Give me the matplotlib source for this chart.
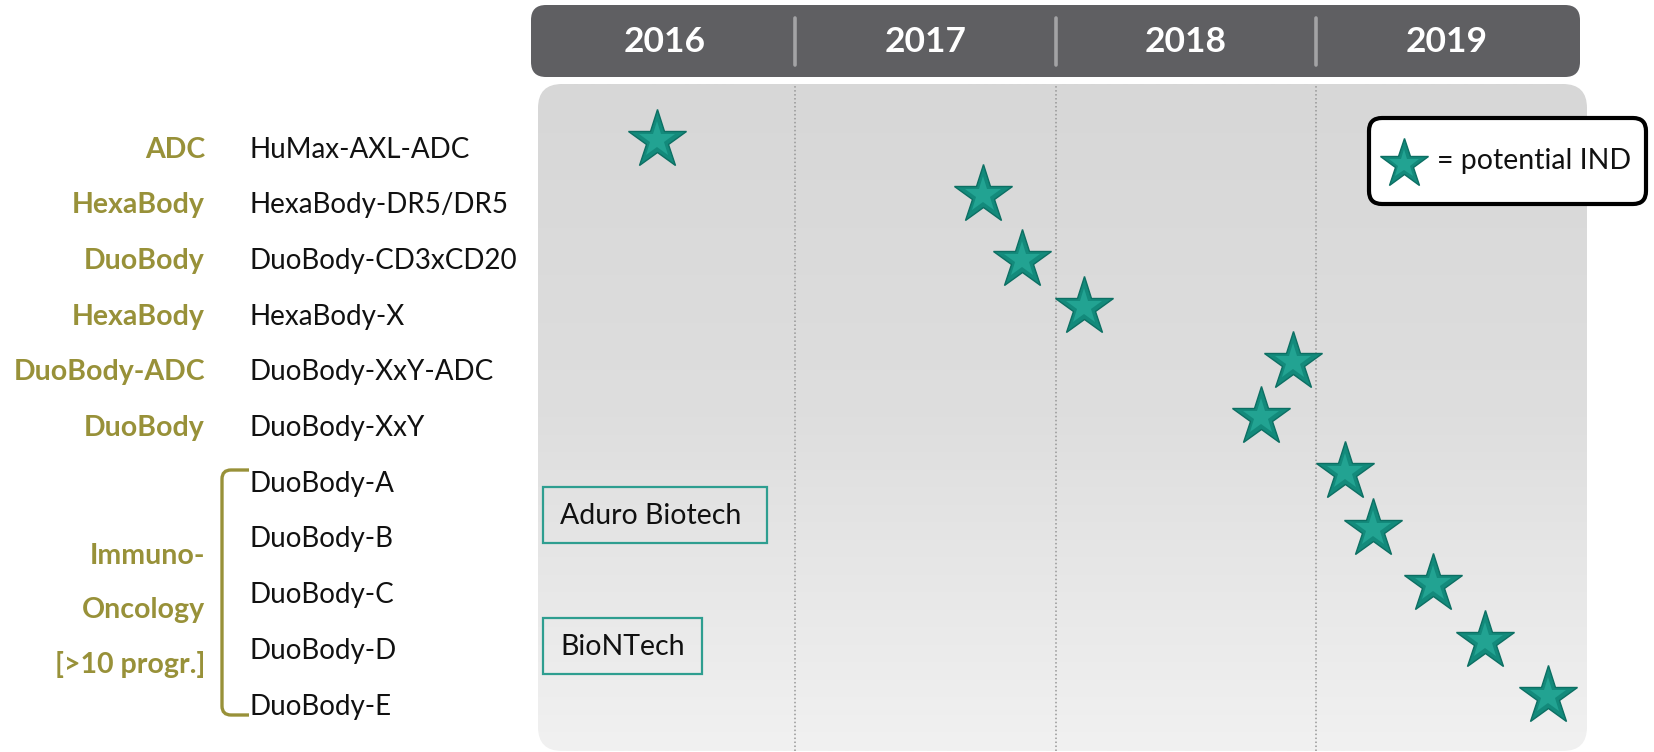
import numpy as np
import matplotlib
matplotlib.use("Agg")
import matplotlib.pyplot as plt
import matplotlib.transforms as mtrans
from matplotlib.patches import FancyBboxPatch, PathPatch
from matplotlib.path import Path
from matplotlib.colors import LinearSegmentedColormap

plt.rcParams['font.family'] = ['Lato', 'DejaVu Sans']

# ---------------- data ----------------
years = ['2016', '2017', '2018', '2019']
year_start = [2016, 2017, 2018, 2019]
categories = ['ADC', 'HexaBody', 'DuoBody', 'HexaBody', 'DuoBody-ADC', 'DuoBody']
io_label = ['Immuno-', 'Oncology', '[>10 progr.]']
products = ['HuMax-AXL-ADC', 'HexaBody-DR5/DR5', 'DuoBody-CD3xCD20', 'HexaBody-X',
            'DuoBody-XxY-ADC', 'DuoBody-XxY', 'DuoBody-A', 'DuoBody-B',
            'DuoBody-C', 'DuoBody-D', 'DuoBody-E']
# potential IND timing (fractional year) and vertical row position
star_year = [2016.47, 2017.72, 2017.87, 2018.11, 2018.91, 2018.79,
             2019.11, 2019.22, 2019.45, 2019.65, 2019.89]
star_row = [-0.13, 0.87, 2.03, 2.87, 3.86, 4.84, 5.84, 6.86, 7.84, 8.86, 9.86]
partners = ['Aduro Biotech', 'BioNTech']
legend_text = '= potential IND'

# ---------------- style ----------------
OLIVE = '#989139'
TEAL_BOX = '#2e9e90'
STAR_OUT = '#138a7b'
STAR_EDGE = '#0c6f63'
STAR_IN = '#22a392'
HEADER = '#5f5f62'

W, H = 1654, 752
fig = plt.figure(figsize=(W / 100, H / 100), dpi=100)
base = fig.add_axes([0, 0, 1, 1])
base.set_xlim(0, W)
base.set_ylim(H, 0)
base.axis('off')

# panel geometry (pixels)
PL, PR, PT, PB = 538, 1587, 84, 751
X2016, PX_YEAR = 534.5, 260.5
ROW0, ROW_H = 147, 55.7

ax = fig.add_axes([PL / W, 1 - PB / H, (PR - PL) / W, (PB - PT) / H])
ax.set_xlim(2016 + (PL - X2016) / PX_YEAR, 2016 + (PR - X2016) / PX_YEAR)
ax.set_ylim((PB - ROW0) / ROW_H, (PT - ROW0) / ROW_H)
ax.axis('off')
ax.patch.set_visible(False)

# panel background with vertical gradient
panel = FancyBboxPatch((PL, PT), PR - PL, PB - PT,
                       boxstyle='round,pad=0,rounding_size=24',
                       fc='none', ec='none', zorder=1)
base.add_patch(panel)
cmap = LinearSegmentedColormap.from_list('g', ['#d7d7d7', '#dedede', '#f1f1f1'])
grad = np.linspace(0, 1, 256).reshape(-1, 1)
im = base.imshow(grad, extent=(PL, PR, PB, PT), cmap=cmap, aspect='auto',
                 zorder=1, interpolation='bilinear')
im.set_clip_path(panel)

# header bar
hdr = FancyBboxPatch((531, 5), 1049, 72, boxstyle='round,pad=0,rounding_size=15',
                     fc=HEADER, ec='none', zorder=2)
base.add_patch(hdr)
tx_hdr = mtrans.blended_transform_factory(ax.transData, base.transData)
for ys in year_start[1:]:
    base.plot([ys, ys], [18, 65], color='#a3a3a5', lw=2.6, transform=tx_hdr,
              zorder=3, solid_capstyle='round')
for y0, lab in zip(year_start, years):
    base.text(y0 + 0.5, 42, lab, transform=tx_hdr, ha='center', va='center',
              color='white', fontsize=25.5, fontweight='bold', zorder=4)

# dotted year dividers in panel
for ys in year_start[1:]:
    ax.axvline(ys, color='#979797', lw=1.1, linestyle=(0, (1, 1.6)), zorder=2)

# row labels
tx_row = mtrans.offset_copy(
    mtrans.blended_transform_factory(base.transData, ax.transData),
    fig=fig, x=0, y=-2.5, units='dots')
for i, c in enumerate(categories):
    base.text(205, i, c, transform=tx_row, ha='right', va='center',
              color=OLIVE, fontsize=20.5, fontweight='bold')
for i, p in enumerate(products):
    base.text(249, i, p, transform=tx_row, ha='left', va='center',
              color='#111111', fontsize=20)
for yy, t in zip([556, 610, 665], io_label):
    base.text(205, yy, t, ha='right', va='center', color=OLIVE,
              fontsize=20.5, fontweight='bold')

# bracket
r = 9
bx, btop, bbot, bend = 222, 470, 715, 249
verts = [(bend, btop), (bx + r, btop), (bx, btop), (bx, btop + r),
         (bx, bbot - r), (bx, bbot), (bx + r, bbot), (bend, bbot)]
codes = [Path.MOVETO, Path.LINETO, Path.CURVE3, Path.CURVE3,
         Path.LINETO, Path.CURVE3, Path.CURVE3, Path.LINETO]
base.add_patch(PathPatch(Path(verts, codes), fc='none', ec=OLIVE, lw=2.4, zorder=3))

# partner boxes
for (x0, y0, x1, y1), t in zip([(543, 487, 767, 543), (543, 618, 702, 674)], partners):
    base.add_patch(FancyBboxPatch((x0, y0), x1 - x0, y1 - y0, boxstyle='square,pad=0',
                                  fc='none', ec=TEAL_BOX, lw=1.6, zorder=3))
    base.text(560, (y0 + y1) / 2 + 1, t, ha='left', va='center', fontsize=20.5,
              color='#111111', zorder=4)

# stars
ax.plot(star_year, star_row, ls='none', marker='*', ms=44, mfc=STAR_OUT,
        mec=STAR_EDGE, mew=1.0, zorder=5, clip_on=False)
ax.plot(star_year, star_row, ls='none', marker='*', ms=27, mfc=STAR_IN,
        mew=0, zorder=6, clip_on=False)

# legend box
leg = FancyBboxPatch((1369, 118), 277, 86, boxstyle='round,pad=0,rounding_size=13',
                     fc='white', ec='black', lw=3.0, zorder=6)
base.add_patch(leg)
base.plot([1404], [164], ls='none', marker='*', ms=37, mfc=STAR_OUT, mec=STAR_EDGE,
          mew=1.0, zorder=7)
base.plot([1404], [164], ls='none', marker='*', ms=22, mfc=STAR_IN, mew=0, zorder=8)
base.text(1437, 161, legend_text, ha='left', va='center', fontsize=20.5,
          color='#111111', zorder=8)

fig.savefig('out.png', dpi=100)
